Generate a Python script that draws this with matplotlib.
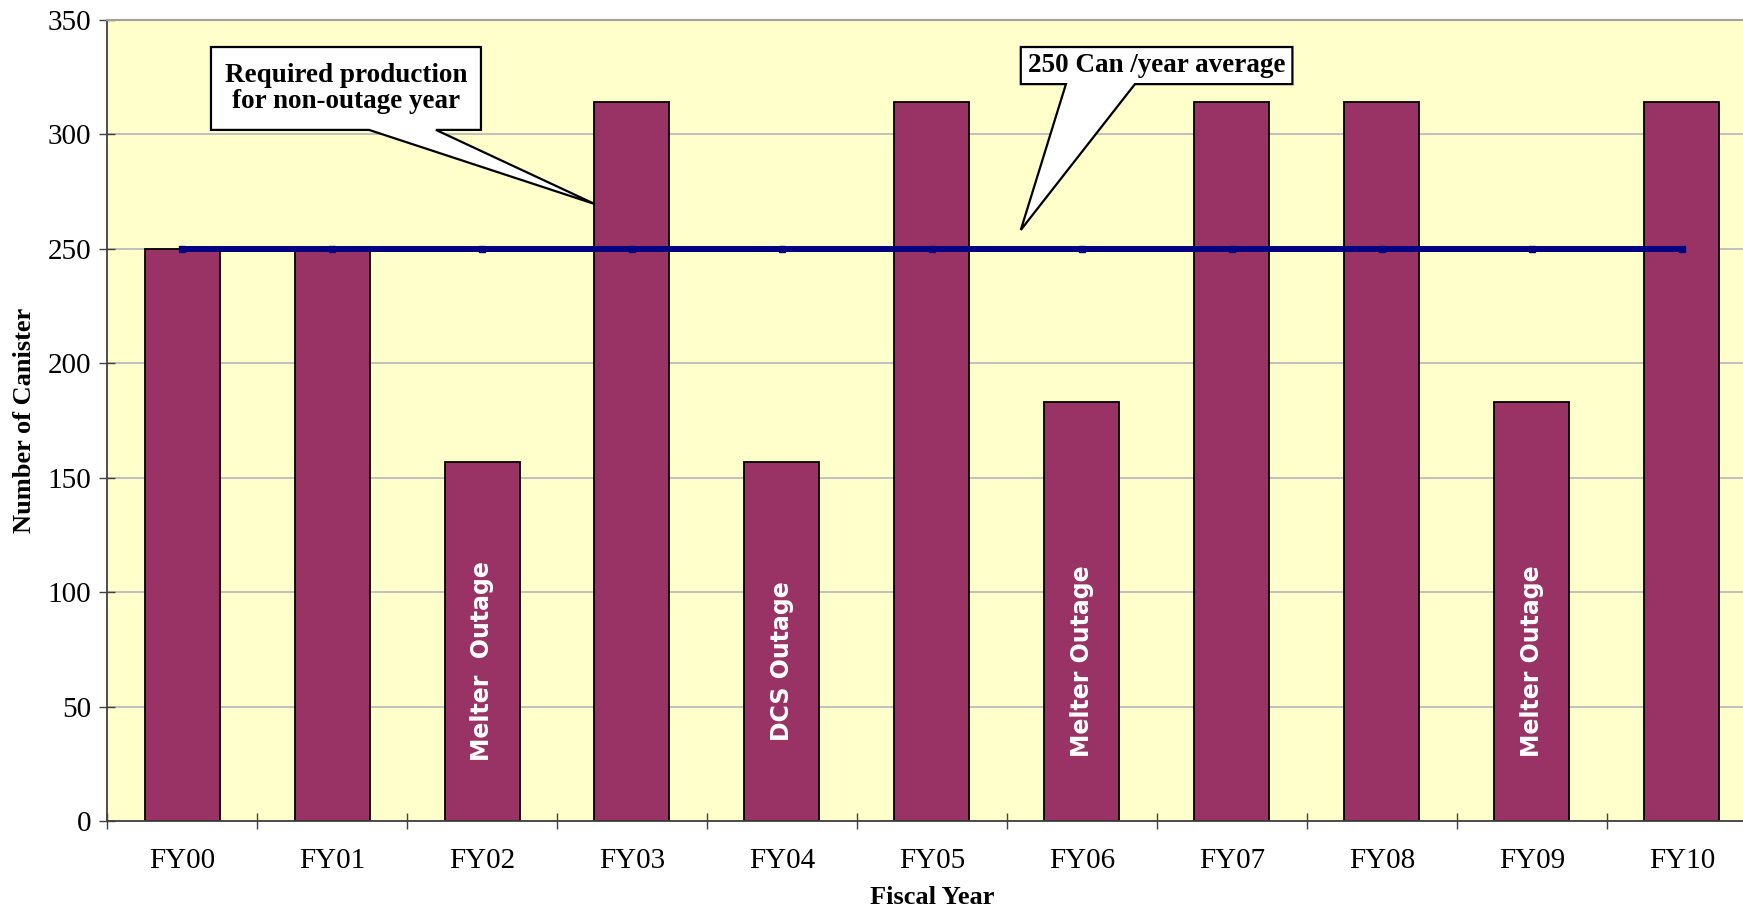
import numpy as np
import matplotlib.pyplot as plt
from matplotlib.patches import Polygon

# canister production per fiscal year
years = ["FY00", "FY01", "FY02", "FY03", "FY04", "FY05",
         "FY06", "FY07", "FY08", "FY09", "FY10"]
canisters = [250, 250, 157, 314, 157, 314, 183, 314, 314, 183, 314]
average = [250, 250, 250, 250, 250, 250, 250, 250, 250, 250, 250]

# outage notes written inside the bars
outage_idx = [2, 4, 6, 9]
outage_text = ["Melter  Outage", "DCS Outage", "Melter Outage", "Melter Outage"]

bar_color = "#993366"
bg_color = "#FFFFCC"
line_color = "#000080"
serif = ["Liberation Serif", "DejaVu Serif"]

fig = plt.figure(figsize=(17.43, 9.09), dpi=100)
ax = fig.add_axes([0.0614, 0.0963, 0.9466, 0.8817])
ax.set_facecolor(bg_color)

x = np.arange(len(years))
ax.bar(x, canisters, width=0.5, color=bar_color, edgecolor="black",
       linewidth=1.3, zorder=2)
ax.plot(x, average, color=line_color, lw=4.3, marker="s", ms=5,
        solid_capstyle="butt", zorder=3)

for i, label in zip(outage_idx, outage_text):
    ax.text(i, 70, label, rotation=90, ha="center", va="center",
            color="white", fontsize=17, fontweight="bold",
            family="DejaVu Sans", zorder=4)

ax.set_xlim(-0.5, len(years) - 0.5)
ax.set_ylim(0, 350)
ax.set_yticks(np.arange(0, 351, 50))
ax.set_xticks(x)
ax.set_xticklabels(years)
ax.set_xticks(np.arange(-0.5, len(years), 1), minor=True)
ax.tick_params(axis="x", which="major", length=0, pad=19)
ax.tick_params(axis="x", which="minor", direction="inout", length=11,
               width=1, color="#404040")
ax.tick_params(axis="y", direction="inout", length=11, width=1,
               color="#404040", pad=6)
for lbl in ax.get_xticklabels() + ax.get_yticklabels():
    lbl.set_family(serif)
    lbl.set_fontsize(21)

ax.grid(axis="y", color="#C0C0C0", lw=1.4, zorder=0)
ax.set_axisbelow(True)
for side in ("left", "bottom"):
    ax.spines[side].set_color("#404040")
    ax.spines[side].set_linewidth(1.3)
ax.spines["top"].set_color("#A0A0A0")
ax.spines["top"].set_linewidth(1.5)
ax.spines["right"].set_visible(False)

ax.set_ylabel("Number of Canister", family=serif, fontsize=19,
              fontweight="bold", labelpad=8)
ax.set_xlabel("Fiscal Year", family=serif, fontsize=19,
              fontweight="bold", labelpad=9)


def callout(x0, x1, y_top, y_bot, base0, base1, tip, text):
    pts = [(x0, y_top), (x1, y_top), (x1, y_bot), (base1, y_bot),
           tip, (base0, y_bot), (x0, y_bot)]
    ax.add_patch(Polygon(pts, closed=True, facecolor="white",
                         edgecolor="black", lw=1.6, zorder=5,
                         clip_on=False))
    ax.text((x0 + x1) / 2, (y_top + y_bot) / 2, text, ha="center",
            va="center", family=serif, fontsize=19.5, fontweight="bold",
            linespacing=1.05, zorder=6)


callout(0.193, 1.993, 338.2, 302.0, 1.247, 1.693, (2.753, 269.6),
        "Required production\nfor non-outage year")
callout(5.592, 7.403, 338.2, 322.0, 5.893, 6.353, (5.592, 258.3),
        "250 Can /year average")

fig.savefig("out.png", dpi=100)
